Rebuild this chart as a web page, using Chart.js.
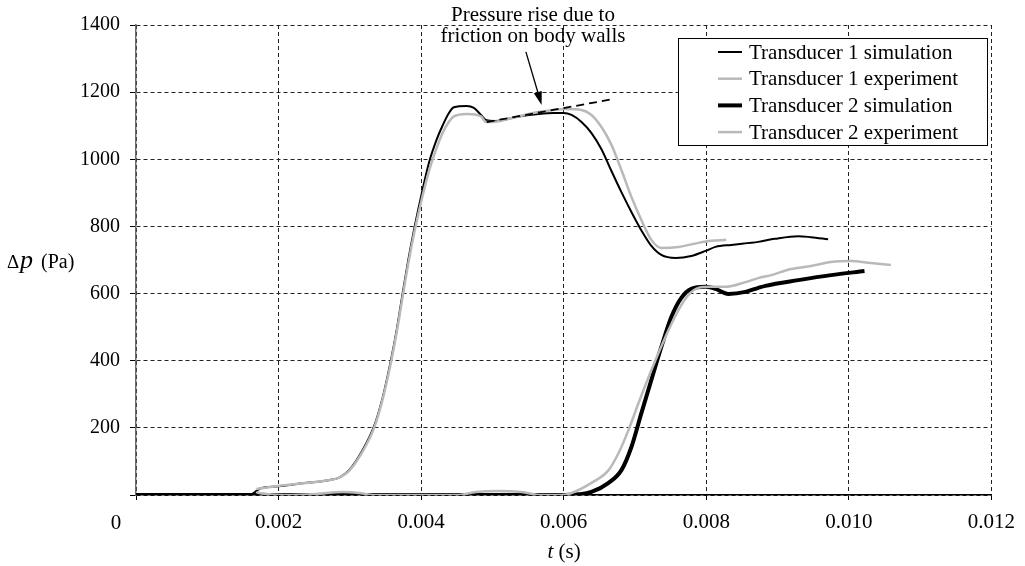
<!DOCTYPE html>
<html>
<head>
<meta charset="utf-8">
<script src="https://cdn.jsdelivr.net/npm/chart.js@4"></script>
<style>
  html, body { margin: 0; padding: 0; background: #fff; }
</style>
</head>
<body>
<canvas id="chart" width="1025" height="566"></canvas>
<script>
// time (s) and pressure difference (Pa)
const t1SimT = [0, 0.0016, 0.00169, 0.00175, 0.0020, 0.0023, 0.0027, 0.00285, 0.00299, 0.00318, 0.00334, 0.00346, 0.00357, 0.00366, 0.00374, 0.00382, 0.00391, 0.00401, 0.00411, 0.00422, 0.00430, 0.00439, 0.00446, 0.00464, 0.00474, 0.00484, 0.00491, 0.00505, 0.00533, 0.00565, 0.00586, 0.00600, 0.00611, 0.00625, 0.00639, 0.00653, 0.00667, 0.00681, 0.00695, 0.00709, 0.00723, 0.00737, 0.00757, 0.00779, 0.00799, 0.00813, 0.00835, 0.00873, 0.00896, 0.00929, 0.00947, 0.00971];
const t1SimP = [0, 0, 12, 20, 26, 34, 44, 52, 74, 134, 205, 290, 395, 495, 600, 700, 800, 900, 990, 1060, 1100, 1138, 1155, 1159, 1153, 1132, 1117, 1114, 1126, 1135, 1138, 1138, 1132, 1111, 1078, 1030, 965, 902, 843, 788, 742, 715, 706, 712, 727, 739, 745, 754, 763, 771, 768, 762];

const t1ExpT = [0.00169, 0.0020, 0.0023, 0.0027, 0.00285, 0.00299, 0.00318, 0.00334, 0.00346, 0.00357, 0.00366, 0.00374, 0.00382, 0.00391, 0.00401, 0.00411, 0.00422, 0.00430, 0.00439, 0.00446, 0.00464, 0.00484, 0.00491, 0.00505, 0.00533, 0.00565, 0.00603, 0.00625, 0.00639, 0.00653, 0.00667, 0.00681, 0.00695, 0.00709, 0.00723, 0.00737, 0.00761, 0.00789, 0.00807, 0.00828];
const t1ExpP = [18, 27, 34, 44, 52, 72, 130, 200, 285, 388, 488, 590, 690, 788, 882, 965, 1035, 1078, 1112, 1128, 1135, 1128, 1111, 1112, 1126, 1141, 1150, 1147, 1132, 1096, 1043, 968, 888, 819, 760, 736, 739, 751, 757, 760];

const t2SimT = [0, 0.0060, 0.00621, 0.00639, 0.00663, 0.00681, 0.00695, 0.00709, 0.00723, 0.00737, 0.00751, 0.00765, 0.00779, 0.00799, 0.00813, 0.00831, 0.00855, 0.00873, 0.00883, 0.00929, 0.00975, 0.01022];
const t2SimP = [0, 0, 2, 9, 36, 74, 143, 244, 343, 441, 530, 587, 614, 620, 614, 599, 605, 617, 623, 640, 655, 667];

const t2ExpT = [0.00169, 0.00173, 0.00206, 0.00253, 0.0029, 0.00313, 0.00334, 0.0045, 0.00477, 0.00509, 0.00541, 0.00569, 0.00597, 0.00611, 0.00639, 0.00663, 0.00677, 0.00691, 0.00705, 0.00719, 0.00733, 0.00747, 0.00761, 0.00775, 0.00789, 0.00807, 0.00827, 0.00855, 0.00873, 0.00891, 0.00919, 0.00947, 0.00975, 0.01003, 0.01031, 0.01059];
const t2ExpP = [8, 6, 0, 3, 9, 6, 0, 0, 9, 12, 9, 0, 0, 6, 36, 74, 125, 194, 274, 351, 423, 491, 551, 596, 617, 620, 620, 634, 646, 655, 673, 682, 694, 697, 691, 685];

// dashed trend line and arrow of the annotation
const trendT = [0.00492, 0.00671];
const trendP = [1111, 1180];
const arrowT = [0.00547, 0.00569];
const arrowP = [1320, 1162];

const seriesNames = ["Transducer 1 simulation", "Transducer 1 experiment", "Transducer 2 simulation", "Transducer 2 experiment"];
const noteLines = ["Pressure rise due to", "friction on body walls"];
const xTickLabels = ["0", "0.002", "0.004", "0.006", "0.008", "0.010", "0.012"];

const SERIF = '"Liberation Serif", "DejaVu Serif", serif';
const GREY = "#b9b9b9";

function pts(ts, ps) {
    return ts.map((t, i) => ({ x: t, y: ps[i] }));
}

const overlay = {
    id: "overlay",
    afterDraw(chart) {
        const { ctx, scales: { x, y } } = chart;
        ctx.save();

        // arrow
        const ax0 = x.getPixelForValue(arrowT[0]), ay0 = y.getPixelForValue(arrowP[0]);
        const ax1 = x.getPixelForValue(arrowT[1]), ay1 = y.getPixelForValue(arrowP[1]);
        const ang = Math.atan2(ay1 - ay0, ax1 - ax0);
        ctx.strokeStyle = "#000";
        ctx.fillStyle = "#000";
        ctx.lineWidth = 1.3;
        ctx.beginPath();
        ctx.moveTo(ax0, ay0);
        ctx.lineTo(ax1 - 8 * Math.cos(ang), ay1 - 8 * Math.sin(ang));
        ctx.stroke();
        ctx.beginPath();
        ctx.moveTo(ax1, ay1);
        ctx.lineTo(ax1 - 14 * Math.cos(ang - 0.3), ay1 - 14 * Math.sin(ang - 0.3));
        ctx.lineTo(ax1 - 14 * Math.cos(ang + 0.3), ay1 - 14 * Math.sin(ang + 0.3));
        ctx.closePath();
        ctx.fill();

        // annotation text
        ctx.font = "21px " + SERIF;
        ctx.textAlign = "center";
        ctx.textBaseline = "alphabetic";
        ctx.fillText(noteLines[0], 533, 21);
        ctx.fillText(noteLines[1], 533, 42);

        // "0" under the origin
        ctx.fillText(xTickLabels[0], 116, 529);

        // x title: t (s)
        ctx.textAlign = "left";
        ctx.font = "italic 21px " + SERIF;
        const tw = ctx.measureText("t").width;
        ctx.font = "21px " + SERIF;
        const sw = ctx.measureText(" (s)").width;
        let sx = 564 - (tw + sw) / 2;
        ctx.font = "italic 21px " + SERIF;
        ctx.fillText("t", sx, 558);
        ctx.font = "21px " + SERIF;
        ctx.fillText(" (s)", sx + tw, 558);

        // y title: Δp (Pa)
        ctx.font = "19px " + SERIF;
        ctx.fillText("\u0394", 7, 268);
        ctx.font = "italic 26px " + SERIF;
        ctx.fillText("p", 20, 268);
        ctx.font = "20px " + SERIF;
        ctx.fillText("(Pa)", 41, 268);

        // legend
        const bx = 678.5, by = 38.5, bw = 309, bh = 107;
        ctx.fillStyle = "#fff";
        ctx.fillRect(bx, by, bw, bh);
        ctx.strokeStyle = "#000";
        ctx.lineWidth = 1;
        ctx.strokeRect(bx, by, bw, bh);
        const legendSets = chart.data.datasets.filter(d => seriesNames.includes(d.label));
        ctx.font = "21px " + SERIF;
        ctx.textBaseline = "middle";
        legendSets.forEach((d, i) => {
            const ry = 52 + i * 26.7;
            ctx.strokeStyle = d.borderColor;
            ctx.lineWidth = d.borderWidth;
            ctx.beginPath();
            ctx.moveTo(718, ry);
            ctx.lineTo(742, ry);
            ctx.stroke();
            ctx.fillStyle = "#000";
            ctx.fillText(d.label, 749, ry + 1);
        });
        ctx.restore();
    }
};

new Chart(document.getElementById("chart").getContext("2d"), {
    type: "line",
    data: {
        datasets: [
            { label: "trend", data: pts(trendT, trendP), borderColor: "#000", borderWidth: 1.8, borderDash: [8, 5], order: 0 },
            { label: seriesNames[0], data: pts(t1SimT, t1SimP), borderColor: "#000", borderWidth: 2, order: 2 },
            { label: seriesNames[1], data: pts(t1ExpT, t1ExpP), borderColor: GREY, borderWidth: 2.5, order: 1 },
            { label: seriesNames[2], data: pts(t2SimT, t2SimP), borderColor: "#000", borderWidth: 4, order: 2 },
            { label: seriesNames[3], data: pts(t2ExpT, t2ExpP), borderColor: GREY, borderWidth: 2.5, order: 1 }
        ]
    },
    options: {
        responsive: false,
        animation: false,
        devicePixelRatio: 1,
        elements: { point: { radius: 0 }, line: { cubicInterpolationMode: "monotone", fill: false } },
        layout: { padding: { left: 0, top: 25, right: 32, bottom: 0 } },
        plugins: { legend: { display: false }, tooltip: { enabled: false } },
        scales: {
            x: {
                type: "linear",
                min: 0,
                max: 0.012,
                afterFit: s => { s.height = 71; },
                ticks: {
                    stepSize: 0.002,
                    maxRotation: 0,
                    padding: 10,
                    color: "#000",
                    font: { family: SERIF, size: 21 },
                    callback: v => {
                        const i = Math.round(v / 0.002);
                        return i === 0 ? "" : xTickLabels[i];
                    }
                },
                grid: { color: "#222", lineWidth: 1, tickLength: 5, tickColor: "#000", tickBorderDash: [] },
                border: { color: "#000", width: 1.5, dash: [4, 3] }
            },
            y: {
                min: 0,
                max: 1400,
                afterFit: s => { s.width = 136; },
                ticks: {
                    stepSize: 200,
                    padding: 10,
                    color: "#000",
                    font: { family: SERIF, size: 20 },
                    callback: v => (v === 0 ? "" : String(v))
                },
                grid: { color: "#222", lineWidth: 1, tickLength: 6, tickColor: "#000", tickBorderDash: [] },
                border: { color: "#6b6b6b", width: 1.5, dash: [4, 3] }
            }
        }
    },
    plugins: [overlay]
});
</script>
</body>
</html>
